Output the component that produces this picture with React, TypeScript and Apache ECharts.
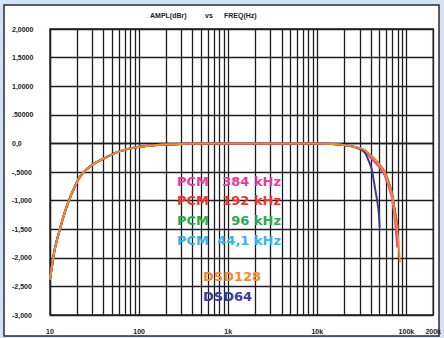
import React, { useEffect, useRef } from "react";
import * as echarts from "echarts";

// Shared low-frequency roll-off (Hz / dB), common to every format
const lowFreq = [10, 11.3, 12.9, 15.4, 20, 23, 30, 43, 60, 100, 200, 500, 1000, 5000, 10000];
const lowDb = [-2.38, -1.85, -1.5, -1.1, -0.68, -0.53, -0.37, -0.24, -0.14, -0.06, -0.02, 0, 0, 0, 0];

// High-frequency roll-off per format
const pcm441Freq = [15000, 20000, 27800, 34100, 40800, 50000, 57000, 68000, 73600, 78000, 80500];
const pcm441Db = [-0.01, -0.03, -0.07, -0.12, -0.23, -0.37, -0.5, -0.84, -1.15, -1.38, -1.5];
const pcm96Freq = [15000, 20000, 27800, 34100, 40800, 50000, 57000, 68000, 73600, 78000, 80500];
const pcm96Db = [-0.01, -0.03, -0.07, -0.12, -0.23, -0.37, -0.5, -0.84, -1.15, -1.38, -1.5];
const pcm192Freq = [15000, 20000, 27800, 34100, 40800, 50000, 57000, 68000, 73600, 78000, 80500];
const pcm192Db = [-0.01, -0.03, -0.07, -0.12, -0.23, -0.38, -0.5, -0.84, -1.15, -1.38, -1.5];
const pcm384Freq = [15000, 20000, 27800, 34100, 40800, 50000, 57000, 68000, 73600, 77000, 79000];
const pcm384Db = [-0.01, -0.03, -0.08, -0.14, -0.27, -0.42, -0.56, -0.92, -1.28, -1.6, -1.82];
const dsd64Freq = [15000, 20000, 27800, 34100, 37000, 40800, 44100, 47000, 48900, 50100];
const dsd64Db = [-0.01, -0.03, -0.07, -0.16, -0.27, -0.45, -0.75, -1.0, -1.2, -1.47];
const dsd128Freq = [15000, 20000, 27800, 34100, 40800, 50000, 57000, 63000, 68000, 73600, 79400, 82500, 84500];
const dsd128Db = [-0.01, -0.03, -0.07, -0.12, -0.23, -0.38, -0.51, -0.7, -0.86, -1.21, -1.56, -1.85, -2.08];

// Intermediate log grid lines (2..9 of each decade)
const minorFreqs = [
  20, 30, 40, 50, 60, 70, 80, 90,
  200, 300, 400, 500, 600, 700, 800, 900,
  2000, 3000, 4000, 5000, 6000, 7000, 8000, 9000,
  20000, 30000, 40000, 50000, 60000, 70000, 80000, 90000,
];

// Axis tick labels
const yTickValues = [-3, -2.5, -2, -1.5, -1, -0.5, 0, 0.5, 1, 1.5, 2];
const yTickLabels = ["-3,000", "-2,500", "-2,000", "-1,500", "-1,000", "-,5000", "0,0", ".50000", "1,0000", "1,5000", "2,0000"];
const xTickValues = [10, 100, 1000, 10000, 100000, 200000];
const xTickLabels = ["10", "100", "1k", "10k", "100k", "200k"];

const formats = [
  { name: "PCM 44,1 kHz", kind: "PCM", rate: "44,1 kHz", color: "#3cb1e6", freq: pcm441Freq, db: pcm441Db, row: 3 },
  { name: "PCM 96 kHz", kind: "PCM", rate: "96 kHz", color: "#2fa84f", freq: pcm96Freq, db: pcm96Db, row: 2 },
  { name: "PCM 192 kHz", kind: "PCM", rate: "192 kHz", color: "#e8382c", freq: pcm192Freq, db: pcm192Db, row: 1 },
  { name: "PCM 384 kHz", kind: "PCM", rate: "384 kHz", color: "#e83b9c", freq: pcm384Freq, db: pcm384Db, row: 0 },
  { name: "DSD64", kind: "DSD", rate: "", color: "#3b3c98", freq: dsd64Freq, db: dsd64Db, row: 5 },
  { name: "DSD128", kind: "DSD", rate: "", color: "#f28a2c", freq: dsd128Freq, db: dsd128Db, row: 4 },
];

const GRID = "#1c1c22";

export default function App() {
  const ref = useRef<HTMLDivElement>(null);

  useEffect(() => {
    if (!ref.current) return;
    const chart = echarts.init(ref.current, undefined, { renderer: "svg" });

    const series: any[] = formats.map((f) => ({
      name: f.name,
      type: "line",
      showSymbol: false,
      smooth: 0.25,
      lineStyle: { color: f.color, width: 2 },
      itemStyle: { color: f.color },
      z: 5,
      data: [
        ...lowFreq.map((x, i) => [x, lowDb[i]]),
        ...f.freq.map((x, i) => [x, f.db[i]]),
      ],
    }));

    // carrier series for the intermediate grid lines
    series.unshift({
      type: "line",
      data: [],
      silent: true,
      z: 1,
      markLine: {
        silent: true,
        symbol: "none",
        label: { show: false },
        lineStyle: { color: GRID, width: 1.3, type: "solid" },
        data: minorFreqs.map((v) => ({ xAxis: v })),
      },
    });

    const legendText: any[] = [];
    formats.forEach((f) => {
      const textStyle = {
        fill: f.color,
        font: "bold 13px 'DejaVu Sans'",
        textVerticalAlign: "middle",
      };
      if (f.kind === "PCM") {
        const y = 181 + f.row * 19.7;
        legendText.push({ type: "text", x: 177, y, z: 50, style: { ...textStyle, text: "PCM", textAlign: "left" } });
        legendText.push({ type: "text", x: 281, y, z: 50, style: { ...textStyle, text: f.rate, textAlign: "right" } });
      } else {
        const y = 276 + (f.row - 4) * 20;
        legendText.push({ type: "text", x: 203, y, z: 50, style: { ...textStyle, text: f.name, textAlign: "left" } });
      }
    });

    const smallFont = { fontFamily: "Liberation Sans", fontSize: 7, fontWeight: "bold" as const, color: "#222" };

    chart.setOption({
      animation: false,
      backgroundColor: "#d3e3f3",
      grid: {
        left: 50,
        right: 7,
        top: 29,
        bottom: 23,
        show: true,
        borderColor: GRID,
        borderWidth: 1.3,
        backgroundColor: "transparent",
      },
      xAxis: {
        type: "log",
        logBase: 10,
        min: 10,
        max: 200000,
        axisLine: { show: true, lineStyle: { color: GRID, width: 1.3 } },
        axisTick: { show: false },
        splitLine: { show: true, lineStyle: { color: GRID, width: 1.3 } },
        axisLabel: {
          ...smallFont,
          margin: 13,
          showMinLabel: true,
          showMaxLabel: true,
          formatter: (v: number) => {
            const i = xTickValues.findIndex((t) => Math.abs(Math.log10(t) - Math.log10(v)) < 1e-3);
            return i >= 0 ? xTickLabels[i] : "";
          },
        },
      },
      yAxis: {
        type: "value",
        min: -3,
        max: 2,
        interval: 0.5,
        axisLine: { show: true, lineStyle: { color: GRID, width: 1.3 } },
        axisTick: { show: false },
        splitLine: { show: true, lineStyle: { color: GRID, width: 1.3 } },
        axisLabel: {
          ...smallFont,
          align: "left",
          margin: 38,
          formatter: (v: number) => {
            const i = yTickValues.findIndex((t) => Math.abs(t - v) < 1e-6);
            return i >= 0 ? yTickLabels[i] : "";
          },
        },
      },
      graphic: [
        {
          type: "rect",
          z: -10,
          shape: { x: 4, y: 5, width: 435, height: 331 },
          style: { fill: "#ffffff", stroke: "#2a2a33", lineWidth: 1.5 },
        },
        { type: "text", x: 150, y: 15, z: 50, style: { text: "AMPL(dBr)", font: "bold 7px 'Liberation Sans'", fill: "#222", textVerticalAlign: "middle" } },
        { type: "text", x: 205, y: 15, z: 50, style: { text: "vs", font: "bold 7px 'Liberation Sans'", fill: "#222", textVerticalAlign: "middle" } },
        { type: "text", x: 224, y: 15, z: 50, style: { text: "FREQ(Hz)", font: "bold 7px 'Liberation Sans'", fill: "#222", textVerticalAlign: "middle" } },
        ...legendText,
      ],
      series,
    });

    return () => chart.dispose();
  }, []);

  return (
    <div
      ref={ref}
      style={{ position: "absolute", left: 0, top: 0, width: 444, height: 338 }}
    />
  );
}
